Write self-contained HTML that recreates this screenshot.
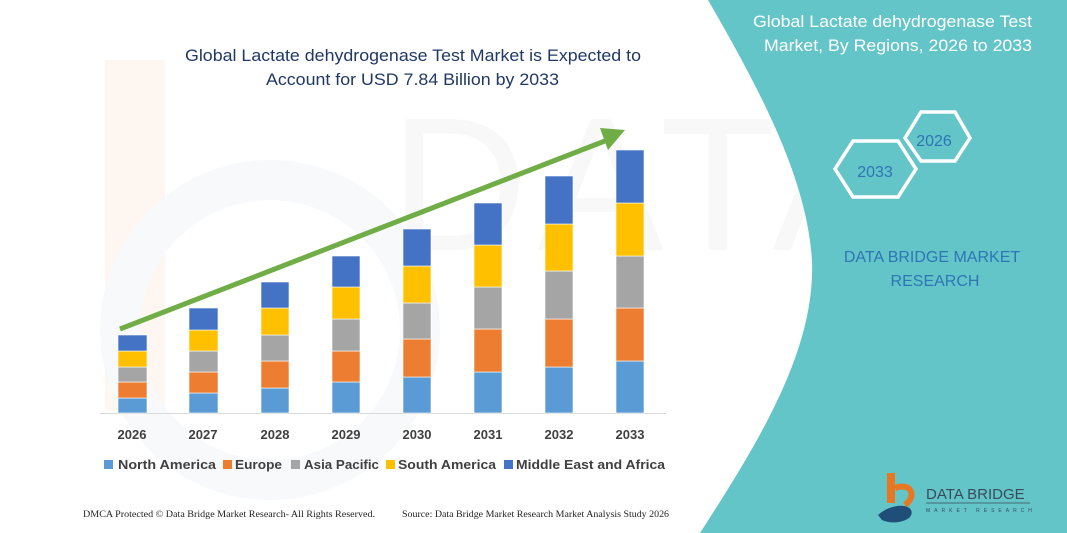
<!DOCTYPE html>
<html><head><meta charset="utf-8"><style>
html,body{margin:0;padding:0;background:#fff;}
svg{display:block;}
</style></head><body>
<svg width="1067" height="533" viewBox="0 0 1067 533" xmlns="http://www.w3.org/2000/svg" font-family="Liberation Sans, sans-serif">
<rect width="1067" height="533" fill="#fff"/>
<!-- faint watermark -->
<path d="M105 60 L165 60 L165 410 L105 410 Z" fill="#fef6f1"/>
<circle cx="270" cy="330" r="150" fill="none" stroke="#f7f9fb" stroke-width="40"/>
<text x="390" y="250" font-size="190" fill="#f8f8f8" letter-spacing="10">DATA BRIDGE</text>
<!-- right panel -->
<path d="M708 0 L1067 0 L1067 533 L700 533 C760 440 815 350 812 262 C808 180 760 90 708 0 Z" fill="#63c5c8"/>
<text x="753" y="27" font-size="16.5" fill="#fff" textLength="279" lengthAdjust="spacingAndGlyphs">Global Lactate dehydrogenase Test</text>
<text x="764" y="51" font-size="16.5" fill="#fff" textLength="268" lengthAdjust="spacingAndGlyphs">Market, By Regions, 2026 to 2033</text>
<polygon points="835,169 853,141 898,141 916,169 898,197 853,197" fill="none" stroke="#fff" stroke-width="3.5"/>
<polygon points="905,138 921,112 955,112 970,138 955,161 921,161" fill="none" stroke="#fff" stroke-width="3.5"/>
<text x="875" y="177" font-size="16" fill="#2e75b6" text-anchor="middle">2033</text>
<text x="934" y="146" font-size="16" fill="#2e75b6" text-anchor="middle">2026</text>
<text x="932" y="262" font-size="16" fill="#2e75b6" text-anchor="middle">DATA BRIDGE MARKET</text>
<text x="935" y="286" font-size="16" fill="#2e75b6" text-anchor="middle">RESEARCH</text>
<!-- logo -->
<rect x="887" y="473" width="8" height="30" fill="#e87722"/>
<path d="M895 488 C910 482 918 495 905 505" fill="none" stroke="#e87722" stroke-width="6"/>
<path d="M878 515 C895 500 918 505 910 517 C904 523 890 524 882 520 Z" fill="#1f4e79"/>
<text x="926" y="499" font-size="15" fill="#3b4a5a">DATA BRIDGE</text>
<line x1="926" y1="503" x2="1030" y2="503" stroke="#3b4a5a" stroke-width="0.8"/>
<text x="926" y="512" font-size="5" fill="#3b4a5a" letter-spacing="4">MARKET RESEARCH</text>
<!-- title -->
<text x="185" y="61" font-size="17" fill="#1f3864" textLength="456" lengthAdjust="spacingAndGlyphs">Global Lactate dehydrogenase Test Market is Expected to</text>
<text x="266" y="85" font-size="17" fill="#1f3864" textLength="293" lengthAdjust="spacingAndGlyphs">Account for USD 7.84 Billion by 2033</text>
<!-- axis -->
<line x1="100" y1="413.5" x2="666" y2="413.5" stroke="#d9d9d9" stroke-width="1"/>
<!-- bars -->
<g stroke="#fff" stroke-width="0.6">
<rect x="118" y="398" width="29" height="15" fill="#5b9bd5"/><rect x="118" y="382" width="29" height="16" fill="#ed7d31"/><rect x="118" y="367" width="29" height="15" fill="#a5a5a5"/><rect x="118" y="351" width="29" height="16" fill="#ffc000"/><rect x="118" y="335" width="29" height="16" fill="#4472c4"/>
<rect x="189" y="393" width="29" height="20" fill="#5b9bd5"/><rect x="189" y="372" width="29" height="21" fill="#ed7d31"/><rect x="189" y="351" width="29" height="21" fill="#a5a5a5"/><rect x="189" y="330" width="29" height="21" fill="#ffc000"/><rect x="189" y="308" width="29" height="22" fill="#4472c4"/>
<rect x="261" y="388" width="28" height="25" fill="#5b9bd5"/><rect x="261" y="361" width="28" height="27" fill="#ed7d31"/><rect x="261" y="335" width="28" height="26" fill="#a5a5a5"/><rect x="261" y="308" width="28" height="27" fill="#ffc000"/><rect x="261" y="282" width="28" height="26" fill="#4472c4"/>
<rect x="332" y="382" width="28" height="31" fill="#5b9bd5"/><rect x="332" y="351" width="28" height="31" fill="#ed7d31"/><rect x="332" y="319" width="28" height="32" fill="#a5a5a5"/><rect x="332" y="287" width="28" height="32" fill="#ffc000"/><rect x="332" y="256" width="28" height="31" fill="#4472c4"/>
<rect x="403" y="377" width="28" height="36" fill="#5b9bd5"/><rect x="403" y="339" width="28" height="38" fill="#ed7d31"/><rect x="403" y="303" width="28" height="36" fill="#a5a5a5"/><rect x="403" y="266" width="28" height="37" fill="#ffc000"/><rect x="403" y="229" width="28" height="37" fill="#4472c4"/>
<rect x="474" y="372" width="28" height="41" fill="#5b9bd5"/><rect x="474" y="329" width="28" height="43" fill="#ed7d31"/><rect x="474" y="287" width="28" height="42" fill="#a5a5a5"/><rect x="474" y="245" width="28" height="42" fill="#ffc000"/><rect x="474" y="203" width="28" height="42" fill="#4472c4"/>
<rect x="545" y="367" width="28" height="46" fill="#5b9bd5"/><rect x="545" y="319" width="28" height="48" fill="#ed7d31"/><rect x="545" y="271" width="28" height="48" fill="#a5a5a5"/><rect x="545" y="224" width="28" height="47" fill="#ffc000"/><rect x="545" y="176" width="28" height="48" fill="#4472c4"/>
<rect x="616" y="361" width="28" height="52" fill="#5b9bd5"/><rect x="616" y="308" width="28" height="53" fill="#ed7d31"/><rect x="616" y="256" width="28" height="52" fill="#a5a5a5"/><rect x="616" y="203" width="28" height="53" fill="#ffc000"/><rect x="616" y="150" width="28" height="53" fill="#4472c4"/>
</g>
<!-- arrow -->
<line x1="120" y1="329" x2="610" y2="139" stroke="#70ad47" stroke-width="5"/>
<polygon points="625,130 600,128 608,150" fill="#70ad47"/>
<!-- x labels -->
<g font-size="13" font-weight="bold" fill="#404040" text-anchor="middle">
<text x="132" y="439">2026</text><text x="203" y="439">2027</text><text x="275" y="439">2028</text><text x="346" y="439">2029</text><text x="417" y="439">2030</text><text x="488" y="439">2031</text><text x="559" y="439">2032</text><text x="630" y="439">2033</text>
</g>
<!-- legend -->
<g font-size="13" font-weight="bold" fill="#404040">
<rect x="104" y="460" width="9" height="9" fill="#5b9bd5"/><text x="118" y="469" textLength="98" lengthAdjust="spacingAndGlyphs">North America</text>
<rect x="223" y="460" width="9" height="9" fill="#ed7d31"/><text x="235" y="469" textLength="47" lengthAdjust="spacingAndGlyphs">Europe</text>
<rect x="291" y="460" width="9" height="9" fill="#a5a5a5"/><text x="304" y="469" textLength="75" lengthAdjust="spacingAndGlyphs">Asia Pacific</text>
<rect x="386" y="460" width="9" height="9" fill="#ffc000"/><text x="398" y="469" textLength="98" lengthAdjust="spacingAndGlyphs">South America</text>
<rect x="504" y="460" width="9" height="9" fill="#4472c4"/><text x="516" y="469" textLength="149" lengthAdjust="spacingAndGlyphs">Middle East and Africa</text>
</g>
<g font-family="Liberation Serif, serif" font-size="9.5" fill="#222">
<text x="83" y="517" textLength="292" lengthAdjust="spacingAndGlyphs">DMCA Protected © Data Bridge Market Research-  All Rights Reserved.</text>
<text x="402" y="517" textLength="267" lengthAdjust="spacingAndGlyphs">Source:  Data Bridge Market Research  Market  Analysis Study 2026</text>
</g>
</svg>
</body></html>
